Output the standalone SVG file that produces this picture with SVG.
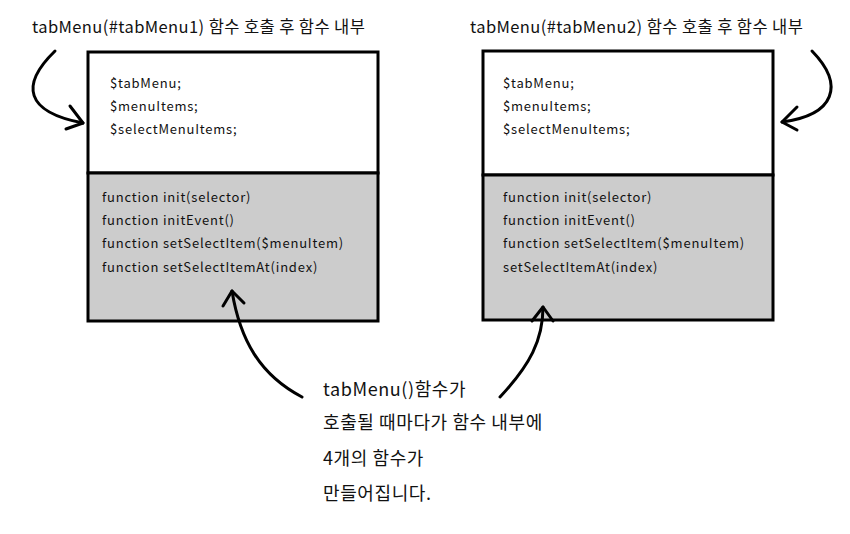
<svg xmlns="http://www.w3.org/2000/svg" width="850" height="534" viewBox="0 0 850 534">
<style>
text{font-family:"Noto Sans CJK KR","Noto Sans",sans-serif;fill:#111}
.t{font-size:16.5px;letter-spacing:0.4px}
.c{font-size:13px;letter-spacing:0.8px}
.n{font-size:18px;letter-spacing:0.6px}
.box{stroke:#000;stroke-width:3}
.con{fill:none;stroke:#000;stroke-width:3;stroke-linecap:round;stroke-linejoin:round}
</style>
<rect width="850" height="534" fill="#fff"/>
<text class="t" x="32" y="33">tabMenu(#tabMenu1) 함수 호출 후 함수 내부</text>
<text class="t" x="470" y="33">tabMenu(#tabMenu2) 함수 호출 후 함수 내부</text>
<g id="box1">
<rect x="88" y="52" width="290" height="121" fill="#fff" class="box"/>
<rect x="88" y="173" width="290" height="148" fill="#cccccc" class="box"/>
<text class="c" x="110" y="88">$tabMenu;</text>
<text class="c" x="110" y="111">$menuItems;</text>
<text class="c" x="110" y="134">$selectMenuItems;</text>
<text class="c" x="102" y="202">function init(selector)</text>
<text class="c" x="102" y="225">function initEvent()</text>
<text class="c" x="102" y="248">function setSelectItem($menuItem)</text>
<text class="c" x="102" y="272">function setSelectItemAt(index)</text>
</g>
<g id="box2">
<rect x="483" y="51" width="290" height="124" fill="#fff" class="box"/>
<rect x="483" y="175" width="290" height="145" fill="#cccccc" class="box"/>
<text class="c" x="503" y="88">$tabMenu;</text>
<text class="c" x="503" y="111">$menuItems;</text>
<text class="c" x="503" y="134">$selectMenuItems;</text>
<text class="c" x="503" y="202">function init(selector)</text>
<text class="c" x="503" y="225">function initEvent()</text>
<text class="c" x="503" y="248">function setSelectItem($menuItem)</text>
<text class="c" x="503" y="272">setSelectItemAt(index)</text>
</g>
<g id="note">
<text class="n" x="323" y="396">tabMenu()함수가</text>
<text class="n" x="323" y="429">호출될 때마다가 함수 내부에</text>
<text class="n" x="323" y="465">4개의 함수가</text>
<text class="n" x="323" y="500">만들어집니다.</text>
</g>
<g id="connectors">
<path class="con" d="M55,51 C20,85 25,112 83,123"/>
<path class="con" d="M70,106 L83,123 L66,129"/>
<path class="con" d="M812,51 C845,85 835,115 782,122"/>
<path class="con" d="M797,107 L782,122 L797,130"/>
<path class="con" d="M302,397 C260,375 240,340 232,291"/>
<path class="con" d="M223,306 L232,291 L244,303"/>
<path class="con" d="M500,397 C530,365 543,340 543,307"/>
<path class="con" d="M532,321 L543,307 L553,321"/>
</g>
</svg>
